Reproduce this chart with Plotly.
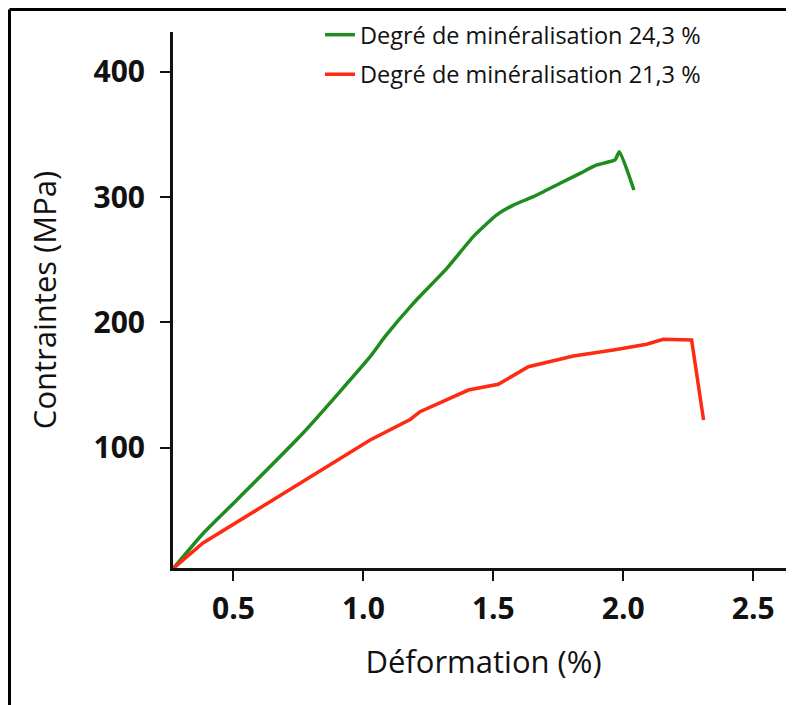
import plotly.graph_objects as go

# Data
strain_243 = [0.27, 0.384, 0.513, 0.768, 1.026, 1.083, 1.192, 1.321, 1.423, 1.513,
              1.577, 1.654, 1.757, 1.834, 1.898, 1.968, 1.985, 2.041]
stress_243 = [4, 31.7, 58.3, 111.7, 172.6, 188.6, 215.2, 243.1, 268.4, 285.7,
              293.6, 300.3, 311, 318.9, 325.6, 329.6, 336.2, 305.6]

strain_213 = [0.27, 0.383, 0.641, 1.026, 1.180, 1.218, 1.404, 1.519, 1.635,
              1.808, 1.962, 2.090, 2.154, 2.263, 2.309]
stress_213 = [4, 24, 56.9, 106.1, 122.5, 128.7, 146, 150.6, 164.6,
              173.2, 178, 182.5, 186.5, 185.9, 122.1]

series_names = ["Degré de minéralisation 24,3 %", "Degré de minéralisation 21,3 %"]
series_colors = ["#1f8c1f", "#ff2a12"]

x_ticks = [0.5, 1.0, 1.5, 2.0, 2.5]
y_ticks = [100, 200, 300, 400]

# the page body has an 8px margin: the figure is sized to fill the window
W, H = 786, 697
L, R, T, B = 165, 0, 24, 137
pw = W - L - R
ph = H - T - B

fig = go.Figure()
fig.add_trace(go.Scatter(x=strain_243, y=stress_243, mode="lines", name=series_names[0],
                         legendgroup="a",
                         line=dict(color=series_colors[0], width=3.5, shape="spline", smoothing=0.5)))
fig.add_trace(go.Scatter(x=strain_213, y=stress_213, mode="lines", name=series_names[1],
                         legendgroup="b",
                         line=dict(color=series_colors[1], width=3.5)))

tick_font = dict(family="Open Sans", size=30, color="#111111", weight="bold")
title_font = dict(family="Open Sans", size=31, color="#111111")

fig.update_xaxes(range=[0.2674, 2.657], tickvals=x_ticks, ticktext=[f"{v:.1f}" for v in x_ticks],
                 showline=True, linecolor="#111111", linewidth=3, showgrid=False, zeroline=False,
                 ticks="outside", ticklen=10, tickwidth=2, tickcolor="#111111",
                 tickfont=tick_font, ticklabelstandoff=2,
                 title=dict(text="Déformation (%)", font=title_font, standoff=25))
fig.update_yaxes(range=[4.0, 431.7], tickvals=y_ticks,
                 showline=True, linecolor="#111111", linewidth=3, showgrid=False, zeroline=False,
                 ticks="outside", ticklen=10, tickwidth=2, tickcolor="#111111",
                 tickfont=tick_font, ticklabelstandoff=9,
                 title=dict(text="Contraintes (MPa)", font=title_font, standoff=28))

# outer frame (left and top edges visible, the others run off the picture)
fx0 = (1.5 - L) / pw
fy1 = (ph - (1.5 - T)) / ph
fig.add_shape(type="line", xref="paper", yref="paper", x0=fx0, x1=(W + 20 - L) / pw, y0=fy1, y1=fy1,
              line=dict(color="#000000", width=3), layer="above")
fig.add_shape(type="line", xref="paper", yref="paper", x0=fx0, x1=fx0, y0=(ph - (H + 20 - T)) / ph, y1=fy1,
              line=dict(color="#000000", width=3), layer="above")

fig.update_layout(
    width=W, height=H,
    margin=dict(l=L, r=R, t=T, b=B, autoexpand=False),
    paper_bgcolor="white", plot_bgcolor="white",
    showlegend=True,
    legend=dict(x=(312 - L) / pw, y=1.0356, xanchor="left", yanchor="top",
                bgcolor="rgba(0,0,0,0)", traceorder="grouped", tracegroupgap=6,
                font=dict(family="Open Sans", size=23.5, color="#111111")),
)

fig.write_html("out.html")
